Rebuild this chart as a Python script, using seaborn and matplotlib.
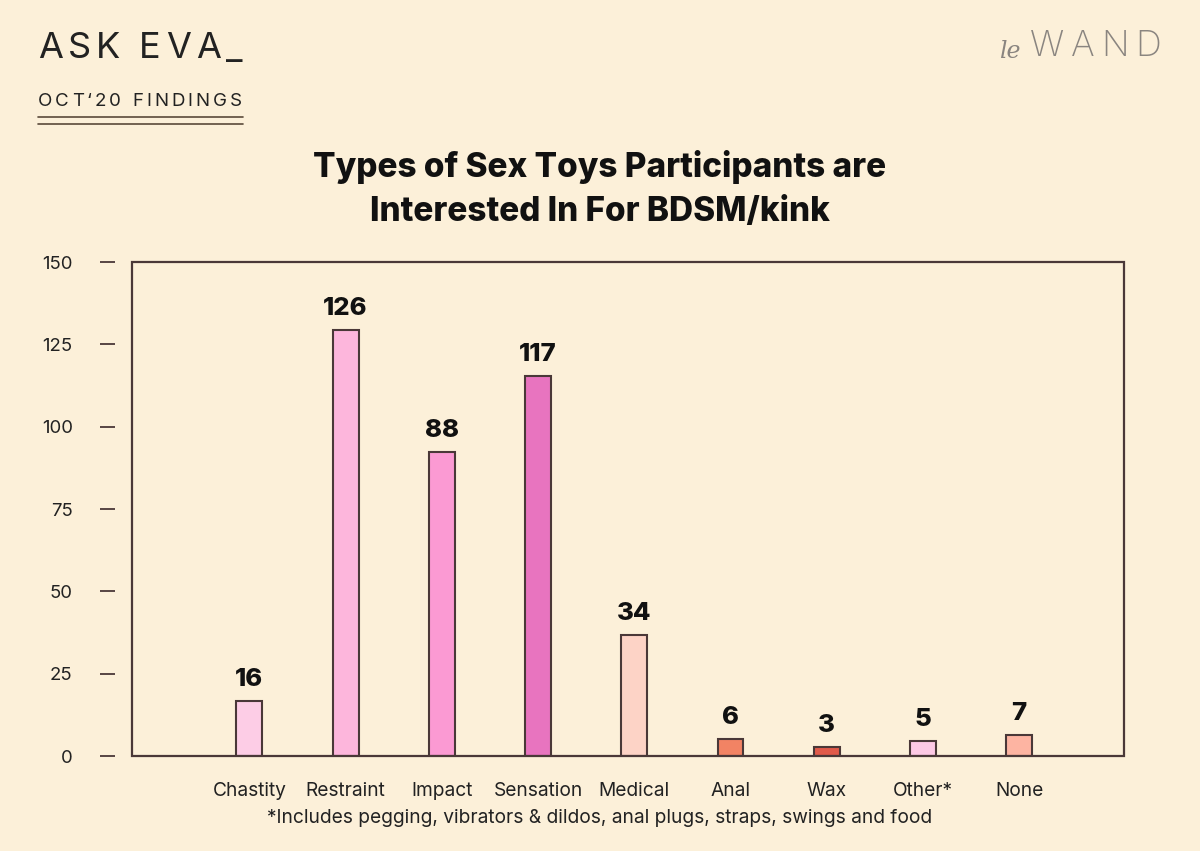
import matplotlib

matplotlib.use("Agg")

import matplotlib.pyplot as plt
import seaborn as sns
import pandas as pd
from matplotlib.patches import Rectangle

# Data
categories = ["Chastity", "Restraint", "Impact", "Sensation", "Medical", "Anal", "Wax", "Other*", "None"]
bar_heights = [16.7, 129.3, 92.3, 115.4, 36.7, 5.2, 2.7, 4.6, 6.4]
value_labels = ["16", "126", "88", "117", "34", "6", "3", "5", "7"]
bar_colors = ["#FDCDE6", "#FDB6DC", "#FB9AD3", "#E874BF", "#FDD3C6",
              "#F28364", "#E05A4A", "#FDC9E5", "#FDB4A2"]
y_ticks = [0, 25, 50, 75, 100, 125, 150]

BG = "#FCF0D9"
INK = "#4A3838"
TEXT = "#222222"

sns.set_theme(style="white")
plt.rcParams["font.family"] = ["Inter", "DejaVu Sans"]

df = pd.DataFrame({"category": categories, "value": bar_heights})

fig = plt.figure(figsize=(12, 8.51), dpi=100, facecolor=BG)
ax = fig.add_axes([0.11, 0.1116, 0.8267, 0.5805])
ax.set_facecolor(BG)

sns.barplot(data=df, x="category", y="value", hue="category", palette=bar_colors,
            saturation=1, legend=False, width=0.27, edgecolor=INK, linewidth=1.5, ax=ax)

for i, (h, lab) in enumerate(zip(bar_heights, value_labels)):
    ax.annotate(lab, (i, h), xytext=(0, 7), textcoords="offset points",
                ha="center", va="bottom", fontsize=18.5, fontweight="heavy", color="#111111")

ax.set_xlim(-1.22, 9.09)
ax.set_ylim(0, 150)
ax.set_yticks(y_ticks)
ax.set_xlabel("")
ax.set_ylabel("")

# frame drawn as a patch, left spine pushed out so the ticks float
for s in ax.spines.values():
    s.set_visible(False)
ax.spines["left"].set_position(("outward", 12.2))
ax.add_patch(Rectangle((0, 0), 1, 1, transform=ax.transAxes, fill=False,
                       edgecolor=INK, linewidth=1.6, clip_on=False, zorder=5))

ax.tick_params(axis="y", left=True, length=11, width=1.3, color=INK,
               pad=19.5, labelsize=13.4, labelcolor=TEXT)
ax.tick_params(axis="x", bottom=False, pad=13, labelsize=13.8, labelcolor=TEXT)

# header
def tracked_text(x, y, s, tracking, **kw):
    renderer = fig.canvas.get_renderer()
    px = x * fig.bbox.width
    for ch in s:
        t = fig.text(px / fig.bbox.width, y, ch, **kw)
        w = t.get_window_extent(renderer).width
        if ch == " ":
            w = kw.get("fontsize", 12) * 0.35
        px += w + tracking

tracked_text(38 / 1200, 1 - 49 / 851, "ASK EVA_", 5, fontsize=26, color=TEXT, va="center")
tracked_text(38 / 1200, 1 - 101 / 851, "OCT‘20 FINDINGS", 3.0, fontsize=13.5, color=TEXT, va="center")
for yy in (117, 124):
    fig.add_artist(plt.Line2D([38 / 1200, 243 / 1200], [1 - yy / 851] * 2, color="#5A4A3A", linewidth=1.2))

fig.text(999 / 1200, 1 - 52 / 851, "le", fontsize=17, family="DejaVu Serif", style="italic",
         color="#8A8580", va="center")
tracked_text(1030 / 1200, 1 - 47 / 851, "WAND", 6.5, fontsize=26, color="#8A8580", va="center",
             fontweight="light")

fig.text(0.5, 1 - 189 / 851, "Types of Sex Toys Participants are\nInterested In For BDSM/kink",
         ha="center", va="center", fontsize=24, fontweight="heavy", color="#111111", linespacing=1.5)

fig.text(600 / 1200, 1 - 818 / 851, "*Includes pegging, vibrators & dildos, anal plugs, straps, swings and food",
         ha="center", va="center", fontsize=13.8, color=TEXT)

fig.savefig("out.png", dpi=100, facecolor=BG)
